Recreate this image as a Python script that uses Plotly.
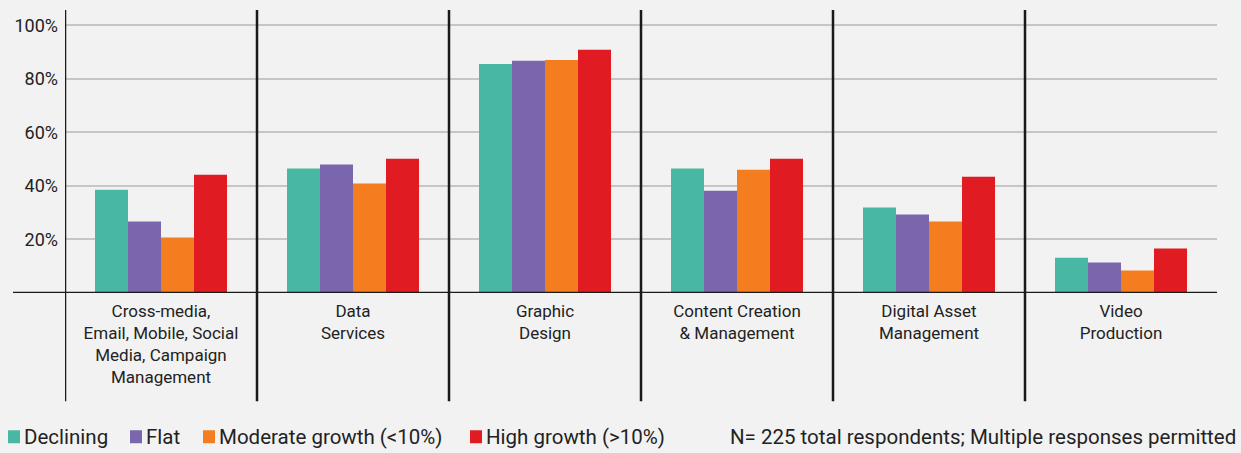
import plotly.graph_objects as go

categories = [
    "Cross-media,<br>Email, Mobile, Social<br>Media, Campaign<br>Management",
    "Data<br>Services",
    "Graphic<br>Design",
    "Content Creation<br>& Management",
    "Digital Asset<br>Management",
    "Video<br>Production",
]
series_names = ["Declining", "Flat", "Moderate growth (<10%)", "High growth (>10%)"]
declining = [38.6, 46.5, 85.6, 46.5, 32.0, 13.2]
flat = [26.7, 48.0, 86.8, 38.2, 29.3, 11.4]
moderate = [20.7, 40.9, 87.1, 46.1, 26.7, 8.4]
high = [44.2, 50.2, 90.9, 50.2, 43.5, 16.6]
y_ticks = [20, 40, 60, 80, 100]
y_tick_labels = ["20%", "40%", "60%", "80%", "100%"]
footnote = "N= 225 total respondents; Multiple responses permitted"

colors = ["#48B8A4", "#7A66AD", "#F47D20", "#E01B22"]
values = [declining, flat, moderate, high]
FONT = "Roboto"
TXT = "#222222"
BG = "#F2F2F2"

W, H = 1241, 453
L, R = 65, 1217
TOP, BOT = 10, 293.5
YMAX = (BOT - TOP) / 2.68


def px2x(px):
    return (px - L) / (R - L)


def px2y(py):
    return (BOT - py) / (BOT - TOP)


xs = list(range(len(categories)))

fig = go.Figure()
for name, vals, col in zip(series_names, values, colors):
    fig.add_trace(go.Bar(x=xs, y=vals, name=name, marker=dict(color=col, line=dict(width=0)),
                         showlegend=False))

shapes = []
# category separators
for i in range(len(categories)):
    shapes.append(dict(type="line", xref="x", yref="paper", x0=i - 0.5, x1=i - 0.5,
                       y0=px2y(402), y1=px2y(10), line=dict(color="#1a1a1a", width=2.5)))
# baseline
shapes.append(dict(type="line", xref="paper", yref="y", x0=px2x(13), x1=1, y0=0, y1=0,
                   line=dict(color="#1a1a1a", width=2.5)))

annotations = []
# legend (manual)
sw_x = [8, 130, 203, 470]
for name, col, sx in zip(series_names, colors, sw_x):
    shapes.append(dict(type="rect", xref="paper", yref="paper",
                       x0=px2x(sx), x1=px2x(sx + 12), y0=px2y(444), y1=px2y(431),
                       fillcolor=col, line=dict(width=0)))
    annotations.append(dict(text=name, xref="paper", yref="paper", x=px2x(sx + 14), y=px2y(438),
                            xanchor="left", yanchor="middle", showarrow=False,
                            font=dict(family=FONT, size=20.5, color=TXT)))
annotations.append(dict(text=footnote, xref="paper", yref="paper", x=px2x(1238), y=px2y(438),
                        xanchor="right", yanchor="middle", showarrow=False,
                        font=dict(family=FONT, size=20.5, color=TXT)))

fig.update_layout(
    width=W, height=H,
    margin=dict(l=L, r=W - R, t=TOP, b=H - BOT),
    paper_bgcolor=BG, plot_bgcolor=BG,
    barmode="group", bargap=0.3125, bargroupgap=0,
    shapes=shapes, annotations=annotations,
    font=dict(family=FONT, color=TXT),
    showlegend=False,
)
fig.update_xaxes(range=[-0.5, len(categories) - 0.5], tickvals=xs, ticktext=categories,
                 showgrid=False, zeroline=False, showline=False, ticks="",
                 tickfont=dict(family=FONT, size=17, color=TXT), ticklabelstandoff=6)
fig.update_yaxes(range=[0, YMAX], tickvals=y_ticks, ticktext=y_tick_labels,
                 showgrid=True, gridcolor="#C6C6C6", gridwidth=1.5, zeroline=False,
                 showline=False, ticks="", tickfont=dict(family=FONT, size=18, color=TXT),
                 ticklabelstandoff=6)

fig.write_html("out.html", config={"displayModeBar": False},
               post_script="document.body.style.margin='0';document.body.style.overflow='hidden';")
